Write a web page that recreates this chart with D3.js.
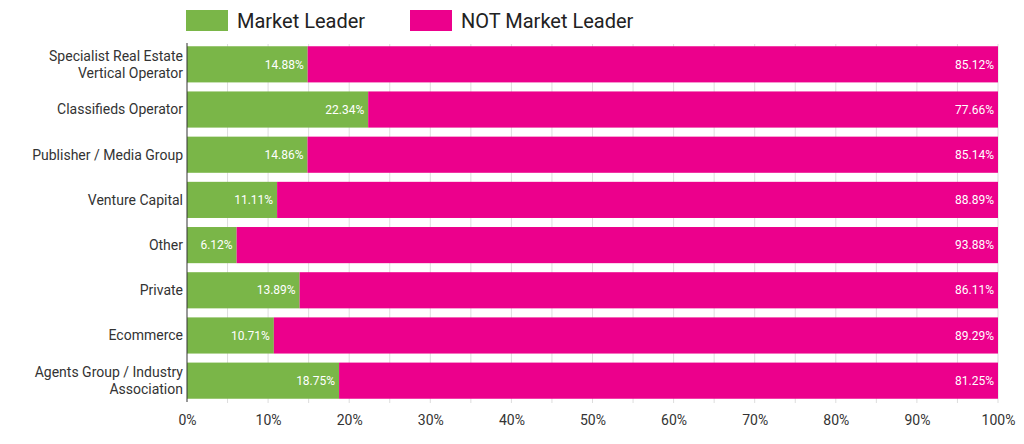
<!DOCTYPE html>
<html><head><meta charset="utf-8">
<script src="https://cdn.jsdelivr.net/npm/d3@7"></script>
<style>body{margin:0;background:#fff;font-family:Roboto,sans-serif}</style>
</head><body><div id="chart"></div>
<script>
const categories = [["Specialist Real Estate","Vertical Operator"],["Classifieds Operator"],["Publisher / Media Group"],["Venture Capital"],["Other"],["Private"],["Ecommerce"],["Agents Group / Industry","Association"]];
const leader = [14.88, 22.34, 14.86, 11.11, 6.12, 13.89, 10.71, 18.75];
const notLeader = [85.12, 77.66, 85.14, 88.89, 93.88, 86.11, 89.29, 81.25];
const seriesNames = ["Market Leader", "NOT Market Leader"];
const colors = ["#7ab648", "#ec008c"];

const width = 1024, height = 444;
const svg = d3.select("#chart").append("svg").attr("width", width).attr("height", height);
const x = d3.scaleLinear().domain([0, 100]).range([187, 998]);
const y = d3.scaleBand().domain(d3.range(categories.length)).range([44, 401]).paddingInner(0.2).paddingOuter(0.05);

// grid every 5%
svg.append("g").selectAll("line").data(d3.range(5, 101, 5)).join("line")
  .attr("x1", d => x(d)).attr("x2", d => x(d)).attr("y1", 44).attr("y2", 403)
  .attr("stroke", "#ddd").attr("stroke-width", 1);

const rows = svg.append("g").selectAll("g").data(d3.range(categories.length)).join("g");
rows.append("rect").attr("x", x(0)).attr("y", i => y(i)).attr("height", y.bandwidth())
  .attr("width", i => x(leader[i]) - x(0)).attr("fill", colors[0]);
rows.append("rect").attr("x", i => x(leader[i])).attr("y", i => y(i)).attr("height", y.bandwidth())
  .attr("width", i => x(100) - x(leader[i])).attr("fill", colors[1]);
rows.append("text").attr("x", i => x(leader[i]) - 4).attr("y", i => y(i) + y.bandwidth() / 2)
  .attr("dy", "0.35em").attr("text-anchor", "end").attr("fill", "#fff").attr("font-size", 12)
  .text(i => leader[i].toFixed(2) + "%");
rows.append("text").attr("x", x(100) - 4).attr("y", i => y(i) + y.bandwidth() / 2)
  .attr("dy", "0.35em").attr("text-anchor", "end").attr("fill", "#fff").attr("font-size", 12)
  .text(i => notLeader[i].toFixed(2) + "%");

// category labels
const lab = svg.append("g").selectAll("text").data(d3.range(categories.length)).join("text")
  .attr("text-anchor", "end").attr("fill", "#333").attr("font-size", 14)
  .attr("x", 183).attr("y", i => y(i) + y.bandwidth() / 2);
lab.selectAll("tspan").data(i => categories[i].map((t, k, a) => ({t, k, n: a.length}))).join("tspan")
  .attr("x", 183).attr("dy", d => d.k === 0 ? (0.35 - (d.n - 1) * 0.6) + "em" : "1.2em").text(d => d.t);

svg.append("line").attr("x1", 187).attr("x2", 187).attr("y1", 43).attr("y2", 402).attr("stroke", "#333");

const xAxis = svg.append("g").attr("transform", "translate(0,403)")
  .call(d3.axisBottom(x).tickValues(d3.range(0, 101, 10)).tickSize(0).tickPadding(12).tickFormat(d => d + "%"));
xAxis.select(".domain").remove();
xAxis.selectAll("text").attr("font-size", 14).attr("fill", "#333").attr("font-family", "Roboto");

// legend
const leg = svg.append("g").selectAll("g").data(seriesNames).join("g")
  .attr("transform", (d, i) => `translate(${i ? 410 : 186},10)`);
leg.append("rect").attr("width", 42).attr("height", 21).attr("fill", (d, i) => colors[i]);
leg.append("text").attr("x", 51).attr("y", 11).attr("dy", "0.35em").attr("font-size", 20).attr("fill", "#222").text(d => d);
</script></body></html>
